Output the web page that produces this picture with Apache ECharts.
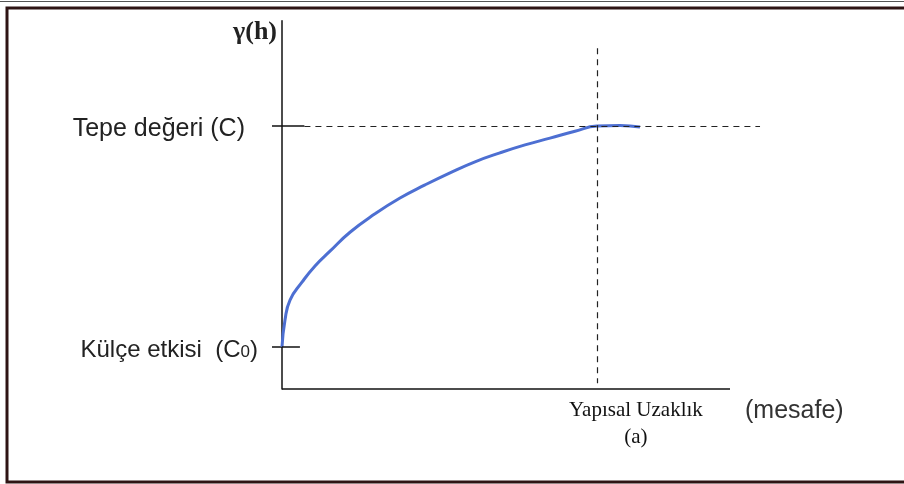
<!DOCTYPE html>
<html>
<head>
<meta charset="utf-8">
<script src="https://cdn.jsdelivr.net/npm/echarts@6/dist/echarts.min.js"></script>
<style>
  html, body { margin: 0; padding: 0; background: #ffffff; }
  #chart { width: 904px; height: 484px; }
</style>
</head>
<body>
<div id="chart"></div>
<script>
// Semivariogram sketch: distance h vs. gamma(h)
const nugget = 0.8;      // Külçe etkisi (C0)
const sill = 5;          // Tepe değeri (C)
const range = 7.03;      // Yapısal uzaklık (a)

const distance = [0, 0.067, 0.179, 0.446, 0.737, 1.071, 1.518, 2.076, 2.634, 3.192, 3.75, 4.308, 4.866, 5.424, 5.982, 6.54, 7.03, 7.545, 7.991];
const gamma    = [0.8, 1.31, 1.69, 2.03, 2.34, 2.62, 2.98, 3.33, 3.63, 3.88, 4.11, 4.32, 4.49, 4.64, 4.77, 4.90, 5.0, 5.01, 4.98];

const yTickValues = [nugget, sill];
const yTickNames = { [nugget]: 'nugget', [sill]: 'sill' };

const curve = distance.map((d, i) => [d, gamma[i]]);

const chart = echarts.init(document.getElementById('chart'), null, { renderer: 'canvas' });

const sansFont = '"Liberation Sans", Arial, sans-serif';
const serifFont = '"Liberation Serif", "Times New Roman", serif';

chart.setOption({
  animation: false,
  backgroundColor: '#ffffff',
  grid: { left: 282, right: 129.2, top: 20.8, bottom: 95 },
  xAxis: {
    type: 'value',
    min: 0,
    max: 11,
    axisLine: { show: false },
    axisTick: { show: false },
    splitLine: { show: false },
    axisLabel: {
      customValues: [range],
      margin: 8,
      formatter: () => '{s|Yapısal Uzaklık}\n{s|(a)}',
      padding: [0, 0, 0, 78],
      rich: {
        s: { fontFamily: serifFont, fontSize: 21, color: '#111', lineHeight: 27, align: 'center' }
      }
    }
  },
  yAxis: {
    type: 'value',
    min: 0,
    max: 7,
    axisLine: { show: true, onZero: false, lineStyle: { color: '#111', width: 1.5 } },
    axisTick: { show: true, customValues: yTickValues, length: 10, lineStyle: { color: '#111', width: 1.5 } },
    splitLine: { show: false },
    axisLabel: {
      customValues: yTickValues,
      margin: 24,
      formatter: (v) => yTickNames[v] === 'sill'
        ? '{t|Tepe değeri (C)}'
        : '{n|Külçe etkisi  (C}{sub|0}{n|)}',
      rich: {
        t: { fontFamily: sansFont, fontSize: 25, color: '#222', lineHeight: 30, padding: [7, 13, 0, 0] },
        n: { fontFamily: sansFont, fontSize: 24, color: '#222', lineHeight: 30, padding: [6, 0, 0, 0] },
        sub: { fontFamily: sansFont, fontSize: 17, color: '#222', lineHeight: 30, padding: [10, 0, 0, 0] }
      }
    }
  },
  series: [
    {
      type: 'line',
      data: curve,
      smooth: 0.5,
      showSymbol: false,
      clip: false,
      lineStyle: { color: '#4d6fd2', width: 3 },
      markLine: {
        silent: true,
        symbol: 'none',
        label: { show: false },
        data: [
          // x axis line
          [{ coord: [0, 0], lineStyle: { type: 'solid', color: '#111', width: 1.5 } }, { coord: [10, 0] }],
          // inner tick segments on the y axis
          [{ coord: [0, sill], lineStyle: { type: 'solid', color: '#111', width: 1.5 } }, { coord: [0.5, sill] }],
          [{ coord: [0, nugget], lineStyle: { type: 'solid', color: '#111', width: 1.5 } }, { coord: [0.4, nugget] }],
          // sill guide
          [{ coord: [0.5, sill], lineStyle: { type: [6, 5], color: '#222', width: 1.2 } }, { coord: [10.67, sill] }],
          // range guide
          [{ coord: [range, 6.48], lineStyle: { type: [6, 5], color: '#222', width: 1.2 } }, { coord: [range, 0.11] }]
        ]
      }
    }
  ],
  graphic: [
    {
      type: 'rect',
      shape: { x: 7, y: 8, width: 905, height: 474 },
      style: { fill: 'none', stroke: '#2e1414', lineWidth: 3 }
    },
    {
      type: 'line',
      shape: { x1: 0, y1: 1.5, x2: 904, y2: 1.5 },
      style: { stroke: '#555', lineWidth: 1 }
    },
    {
      type: 'text',
      right: 904 - 277,
      top: 19,
      style: { text: 'γ(h)', font: 'bold 26px ' + serifFont, fill: '#222' }
    },
    {
      type: 'text',
      left: 745,
      top: 399,
      style: { text: '(mesafe)', font: '25px ' + sansFont, fill: '#333' }
    }
  ]
});
</script>
</body>
</html>
